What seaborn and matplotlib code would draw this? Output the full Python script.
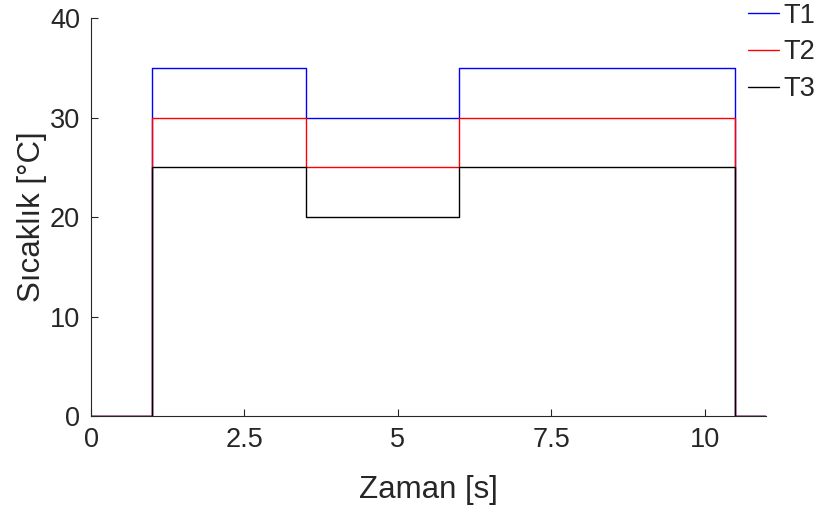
import pandas as pd
import numpy as np
import matplotlib
matplotlib.use("Agg")
import matplotlib.pyplot as plt
import seaborn as sns

# Step data
zaman = [0, 1, 3.5, 6, 10.5, 11]
t1 = [0, 35, 30, 35, 0, 0]
t2 = [0, 30, 25, 30, 0, 0]
t3 = [0, 25, 20, 25, 0, 0]
seriler = ["T1", "T2", "T3"]
renkler = {"T1": "#0000ff", "T2": "#ff0000", "T3": "#000000"}

df = pd.concat([
    pd.DataFrame({"Zaman": zaman, "Sicaklik": vals, "Seri": name})
    for name, vals in zip(seriler, [t1, t2, t3])
])

sns.set_style("white")
plt.rcParams["font.family"] = ["Liberation Sans", "DejaVu Sans"]
axis_col = "#262626"

fig = plt.figure(figsize=(8.17, 5.16), dpi=100)
ax = fig.add_axes([0.1114, 0.1938, 0.8262, 0.7713])

sns.lineplot(data=df, x="Zaman", y="Sicaklik", hue="Seri", palette=renkler,
             drawstyle="steps-post", linewidth=1.0, sort=False,
             estimator=None, ax=ax, legend=False)

ax.set_xlim(0, 11)
ax.set_ylim(0, 40)
ax.set_xticks([0, 2.5, 5, 7.5, 10])
ax.set_xticklabels(["0", "2.5", "5", "7.5", "10"])
ax.set_yticks([0, 10, 20, 30, 40])

sns.despine(ax=ax)
for s in ["left", "bottom"]:
    ax.spines[s].set_color(axis_col)
    ax.spines[s].set_linewidth(0.8)
ax.tick_params(direction="in", length=5, width=0.8, colors=axis_col,
               labelsize=19.5, pad=8, left=True, bottom=True)

ax.set_xlabel("Zaman [s]", fontsize=22.5, color=axis_col, labelpad=16)
ax.set_ylabel("Sıcaklık [°C]", fontsize=22.5, color=axis_col, labelpad=2)

handles = [plt.Line2D([], [], color=renkler[n], lw=1.0) for n in seriler]
fig.legend(handles, seriler, loc="upper left", bbox_to_anchor=(748 / 817, 0.995),
           borderaxespad=0, borderpad=0, frameon=False, fontsize=19.5,
           handlelength=1.15, handletextpad=0.15, labelspacing=0.4)

fig.savefig("out.png", dpi=100)
